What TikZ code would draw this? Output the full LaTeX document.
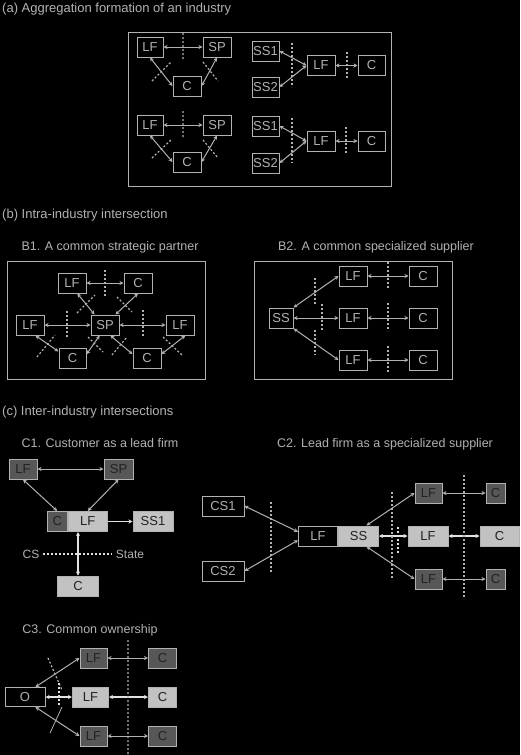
\documentclass[tikz,border=0pt]{standalone}
\usepackage{fontspec}
\setmainfont{Liberation Sans}
\usetikzlibrary{arrows.meta,positioning}
\definecolor{ink}{HTML}{B2B2B2}
\definecolor{pale}{HTML}{E2E2E2}
\definecolor{darkfill}{HTML}{575757}
\definecolor{lightfill}{HTML}{C2C2C2}
\definecolor{deep}{HTML}{222222}
\begin{document}
\begin{tikzpicture}[x=1pt,y=-1pt,>={Stealth[length=4pt,width=4pt]},
  box/.style={draw=ink,line width=1pt,fill=black,text=ink,inner sep=0pt,minimum height=20pt,font=\fontsize{13}{13}\selectfont},
  bbox/.style={box,font=\fontsize{13}{13}\selectfont},
  dbox/.style={bbox,fill=darkfill,text=deep},
  lbox/.style={bbox,fill=lightfill,text=deep},
  link/.style={draw=ink,line width=1pt,<->},
  plink/.style={link,draw=pale,line width=1.6pt},
  fence/.style={draw=ink,line width=1.2pt,dash pattern=on 2pt off 2pt},
  heading/.style={text=ink,anchor=base west,inner sep=0pt,font=\fontsize{13}{13}\selectfont},
  subhead/.style={text=ink,anchor=base,inner sep=0pt,font=\fontsize{12.5}{13}\selectfont}]
\fill[black] (0,0) rectangle (520,755);
\useasboundingbox (0,0) rectangle (520,755);

\node[heading] (ta) at (2,12) {(a) Aggregation formation of an industry};
\draw[draw=ink,line width=1pt] (128,32) rectangle (391,186);
\node[box,minimum width=26pt] (a1lf) at (150,47) {LF};
\node[box,minimum width=28pt] (a1sp) at (217,47) {SP};
\node[box,minimum width=28pt] (a1c) at (187,86) {C};
\draw[link] (a1lf) -- (a1sp);
\draw[link] (a1lf.south) -- (a1c.west);
\draw[link] (a1sp.south) -- (a1c.east);
\draw[fence] (183,33) -- (183,60) (152,81) -- (171,62) (203,62) -- (218,81);
\node[box,minimum width=26pt] (a2lf) at (150,125) {LF};
\node[box,minimum width=28pt] (a2sp) at (217,125) {SP};
\node[box,minimum width=28pt] (a2c) at (187,162) {C};
\draw[link] (a2lf) -- (a2sp);
\draw[link] (a2lf.south) -- (a2c.west);
\draw[link] (a2sp.south) -- (a2c.east);
\draw[fence] (183,111) -- (183,138) (152,158) -- (171,140) (203,140) -- (218,158);
\node[box,minimum width=27pt] (a3s1) at (265.5,51) {SS1};
\node[box,minimum width=27pt] (a3s2) at (265.5,87) {SS2};
\node[box,minimum width=28pt] (a3lf) at (321,65.5) {LF};
\node[box,minimum width=27pt] (a3c) at (371.5,65.5) {C};
\draw[link] (a3s1.east) -- (a3lf.west);
\draw[link] (a3s2.east) -- (a3lf.west);
\draw[link] (a3lf) -- (a3c);
\draw[fence] (292,43) -- (292,87) (347,52) -- (347,78);
\node[box,minimum width=27pt] (a4s1) at (265.5,126) {SS1};
\node[box,minimum width=27pt] (a4s2) at (265.5,163) {SS2};
\node[box,minimum width=28pt] (a4lf) at (321,141) {LF};
\node[box,minimum width=27pt] (a4c) at (371.5,141) {C};
\draw[link] (a4s1.east) -- (a4lf.west);
\draw[link] (a4s2.east) -- (a4lf.west);
\draw[link] (a4lf) -- (a4c);
\draw[fence] (292,118) -- (292,163) (346,127) -- (346,154);

\node[heading] (tb) at (2,218) {(b) Intra-industry intersection};
\node[subhead] (tb1) at (110,250) {B1. A common strategic partner};
\node[subhead] (tb2) at (376,250) {B2. A common specialized supplier};
\draw[draw=ink,line width=1pt] (7,261) rectangle (205,379);
\node[box,minimum width=28pt] (b1lft) at (72,283) {LF};
\node[box,minimum width=28pt] (b1ct) at (138,283) {C};
\node[box,minimum width=28pt] (b1lf) at (30,325) {LF};
\node[box,minimum width=28pt] (b1sp) at (105,325) {SP};
\node[box,minimum width=28pt] (b1lfr) at (180,325) {LF};
\node[box,minimum width=27pt] (b1cl) at (72.5,358) {C};
\node[box,minimum width=28pt] (b1cr) at (147,358) {C};
\draw[link] (b1lft) -- (b1ct);
\draw[link] (b1lf) -- (b1sp);
\draw[link] (b1sp) -- (b1lfr);
\draw[link] (b1lft.-63) -- (b1sp.135);
\draw[link] (b1ct.south) -- (b1sp.45);
\draw[link] (b1lf.-63) -- (b1cl.155);
\draw[link] (b1sp.-117) -- (b1cl.15);
\draw[link] (b1sp.-63) -- (b1cr.165);
\draw[link] (b1lfr.-63) -- (b1cr.15);
\draw[fence] (105,270) -- (105,296) (67,311) -- (67,337) (143,310) -- (143,336);
\draw[fence] (77,313) -- (95,295) (117,297) -- (132,312) (37,357) -- (55,335)
  (88,337) -- (103,352) (112,355) -- (127,337) (163,337) -- (182,355);
\draw[draw=ink,line width=1pt] (254,261) rectangle (452,379);
\node[box,minimum width=24pt] (b2ss) at (281,318) {SS};
\node[box,minimum width=28pt] (b2lf1) at (353,276) {LF};
\node[box,minimum width=28pt] (b2c1) at (423,276) {C};
\node[box,minimum width=28pt] (b2lf2) at (353,318) {LF};
\node[box,minimum width=28pt] (b2c2) at (423,318) {C};
\node[box,minimum width=28pt] (b2lf3) at (353,360) {LF};
\node[box,minimum width=28pt] (b2c3) at (423,360) {C};
\draw[link] (b2ss.north east) -- (b2lf1.west);
\draw[link] (b2ss) -- (b2lf2);
\draw[link] (b2ss.south east) -- (b2lf3.west);
\draw[link] (b2lf1) -- (b2c1);
\draw[link] (b2lf2) -- (b2c2);
\draw[link] (b2lf3) -- (b2c3);
\draw[fence] (315,278) -- (315,304) (322,304) -- (322,330) (315,330) -- (315,355);
\draw[fence] (388,262) -- (388,288) (388,303) -- (388,331) (388,346) -- (388,372);

\node[heading] (tc) at (2,415) {(c) Inter-industry intersections};
\node[subhead] (tc1) at (100,447) {C1. Customer as a lead firm};
\node[subhead] (tc2) at (385,447) {C2. Lead firm as a specialized supplier};
\node[dbox,minimum width=28pt] (c1lf) at (23,469) {LF};
\node[dbox,minimum width=29pt] (c1sp) at (118.5,469) {SP};
\node[lbox,minimum width=39pt] (c1lfl) at (87.7,521.5) {LF};
\node[dbox,minimum width=20pt,left=0pt of c1lfl] (c1c) {C};
\node[lbox,minimum width=40pt] (c1ss) at (153,521.5) {SS1};
\node[lbox,minimum width=41pt] (c1cb) at (78,586) {C};
\node[text=ink,font=\fontsize{12}{12}\selectfont] (c1cs) at (31,554) {CS};
\node[text=ink,font=\fontsize{12}{12}\selectfont] (c1st) at (130,554) {State};
\draw[link] (c1lf) -- (c1sp);
\draw[link] (c1lf.south) -- (c1c.north);
\draw[link] (c1sp.south) -- (c1lfl.north);
\draw[plink,->] (c1lfl) -- (c1ss);
\draw[plink] (c1cb.north |- c1lfl.south) -- (c1cb.north);
\draw[fence,draw=pale] (c1cs) -- (c1st);
\node[bbox,minimum width=42pt] (c2cs1) at (223,506) {CS1};
\node[bbox,minimum width=42pt] (c2cs2) at (223,571) {CS2};
\node[bbox,minimum width=39pt] (c2lf) at (318,536) {LF};
\node[lbox,minimum width=40pt,right=0pt of c2lf] (c2ss) {SS};
\node[dbox,minimum width=27pt] (c2lf1) at (428.5,493) {LF};
\node[dbox,minimum width=19pt] (c2c1) at (495.5,493) {C};
\node[lbox,minimum width=40pt] (c2lf2) at (428,536) {LF};
\node[lbox,minimum width=39pt] (c2c2) at (499.5,536) {C};
\node[dbox,minimum width=27pt] (c2lf3) at (428.5,579) {LF};
\node[dbox,minimum width=19pt] (c2c3) at (495.5,579) {C};
\draw[link] (c2cs1.east) -- (c2lf.168);
\draw[link] (c2cs2.east) -- (c2lf.192);
\draw[link] (c2ss.53) -- (c2lf1.west);
\draw[link] (c2ss.-53) -- (c2lf3.west);
\draw[plink] (c2ss) -- (c2lf2);
\draw[link] (c2lf1) -- (c2c1);
\draw[plink] (c2lf2) -- (c2c2);
\draw[link] (c2lf3) -- (c2c3);
\draw[fence] (271,502) -- (271,572) (392,492) -- (392,580) (464,475) -- (464,598);
\draw[fence,draw=pale,line width=2pt] (398,527) -- (398,553);

\node[subhead] (tc3) at (90,633) {C3. Common ownership};
\node[bbox,minimum width=40pt,minimum height=19pt] (c3o) at (25,697) {O};
\node[dbox,minimum width=27pt] (c3lf1) at (93.5,658) {LF};
\node[dbox,minimum width=28pt] (c3c1) at (162.5,658) {C};
\node[lbox,minimum width=36pt] (c3lf2) at (90.5,697) {LF};
\node[lbox,minimum width=28pt] (c3c2) at (162.5,697) {C};
\node[dbox,minimum width=27pt] (c3lf3) at (93.5,736) {LF};
\node[dbox,minimum width=28pt] (c3c3) at (162.5,736) {C};
\draw[link] (c3o.44) -- (c3lf1.west);
\draw[link] (c3o.-44) -- (c3lf3.west);
\draw[plink] (c3o) -- (c3lf2);
\draw[link] (c3lf1) -- (c3c1);
\draw[plink] (c3lf2) -- (c3c2);
\draw[link] (c3lf3) -- (c3c3);
\draw[fence] (48,658) -- (62,690) (128,640) -- (128,755);
\draw[fence,draw=pale,line width=2pt] (59,683) -- (59,707);
\draw[draw=ink,line width=0.8pt] (62,707) -- (50,733);
\end{tikzpicture}
\end{document}
